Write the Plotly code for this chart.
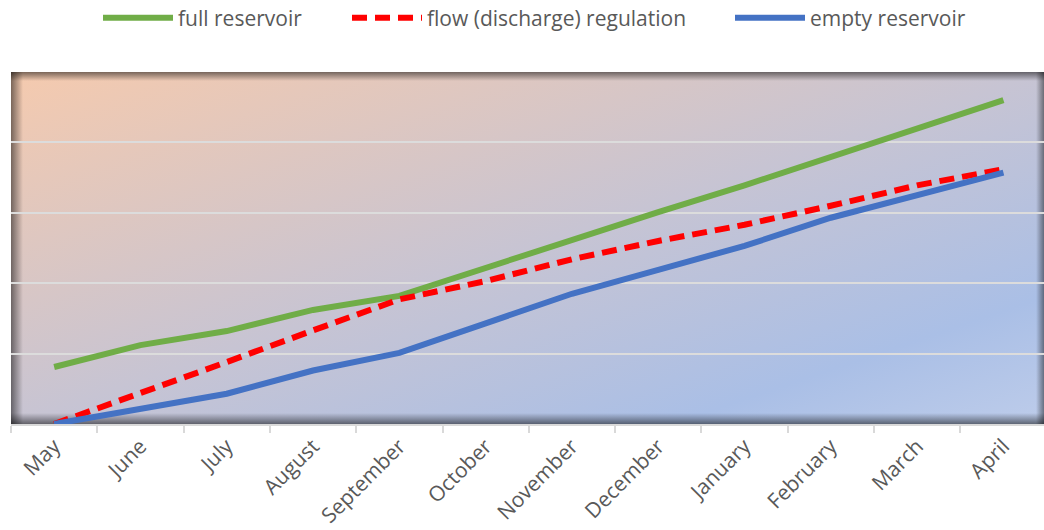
import base64
import plotly.graph_objects as go

months = ["May", "June", "July", "August", "September", "October", "November",
          "December", "January", "February", "March", "April"]
full_reservoir = [0.81, 1.12, 1.32, 1.62, 1.82, 2.22, 2.63, 3.01, 3.39, 3.79, 4.20, 4.60]
flow_regulation = [0.0, 0.43, 0.88, 1.33, 1.77, 2.03, 2.34, 2.60, 2.83, 3.10, 3.39, 3.62]
empty_reservoir = [0.0, 0.22, 0.43, 0.76, 1.01, 1.43, 1.85, 2.19, 2.53, 2.93, 3.24, 3.57]

W, H = 1033, 352
svg = f"""<svg xmlns='http://www.w3.org/2000/svg' width='{W}' height='{H}' viewBox='0 0 {W} {H}' preserveAspectRatio='none'>
<defs>
<linearGradient id='g' x1='0' y1='0' x2='1' y2='1'>
<stop offset='0' stop-color='#F5CAAE'/>
<stop offset='0.5' stop-color='#C7C4D3'/>
<stop offset='0.82' stop-color='#AABFE6'/>
<stop offset='1' stop-color='#BDCCEA'/>
</linearGradient>
<linearGradient id='sl' x1='0' y1='0' x2='1' y2='0'><stop offset='0' stop-color='#000' stop-opacity='0.5'/><stop offset='1' stop-color='#000' stop-opacity='0'/></linearGradient>
<linearGradient id='sr' x1='1' y1='0' x2='0' y2='0'><stop offset='0' stop-color='#000' stop-opacity='0.45'/><stop offset='1' stop-color='#000' stop-opacity='0'/></linearGradient>
<linearGradient id='st' x1='0' y1='0' x2='0' y2='1'><stop offset='0' stop-color='#000' stop-opacity='0.5'/><stop offset='1' stop-color='#000' stop-opacity='0'/></linearGradient>
<linearGradient id='sb' x1='0' y1='1' x2='0' y2='0'><stop offset='0' stop-color='#000' stop-opacity='0.5'/><stop offset='1' stop-color='#000' stop-opacity='0'/></linearGradient>
</defs>
<rect x='0' y='0' width='{W}' height='{H}' fill='url(#g)'/>
<rect x='0' y='0' width='12' height='{H}' fill='url(#sl)'/>
<rect x='{W-8}' y='0' width='8' height='{H}' fill='url(#sr)'/>
<rect x='0' y='0' width='{W}' height='9' fill='url(#st)'/>
<rect x='0' y='{H-11}' width='{W}' height='11' fill='url(#sb)'/>
</svg>"""
bg_src = "data:image/svg+xml;base64," + base64.b64encode(svg.encode()).decode()

fig = go.Figure()
fig.add_trace(go.Scatter(x=months, y=full_reservoir, mode="lines", name="full reservoir",
                         line=dict(color="#70AD47", width=6), legend="legend"))
fig.add_trace(go.Scatter(x=months, y=flow_regulation, mode="lines", name="flow (discharge) regulation",
                         line=dict(color="#FF0000", width=6, dash="15px,8px"), legend="legend2"))
fig.add_trace(go.Scatter(x=months, y=empty_reservoir, mode="lines", name="empty reservoir",
                         line=dict(color="#4472C4", width=6), legend="legend3"))

legend_common = dict(orientation="h", xref="container", yref="container", yanchor="middle",
                     xanchor="left", itemwidth=70, bgcolor="rgba(0,0,0,0)",
                     font=dict(family="Open Sans", size=21, color="#595959"))
fig.update_layout(
    width=1044, height=530,
    showlegend=True,
    margin=dict(l=11, r=0, t=72, b=106),
    paper_bgcolor="white",
    plot_bgcolor="#C7C4D3",
    legend=dict(x=98 / 1044, y=1 - 18 / 530, **legend_common),
    legend2=dict(x=347 / 1044, y=1 - 18 / 530, **legend_common),
    legend3=dict(x=730 / 1044, y=1 - 18 / 530, **legend_common),
    images=[dict(source=bg_src, xref="paper", yref="paper", x=0, y=1, sizex=1, sizey=1,
                 xanchor="left", yanchor="top", sizing="stretch", layer="below")],
    xaxis=dict(type="category", range=[-0.5, 11.47], showgrid=False,
               showline=True, linecolor="#D9D9D9", linewidth=1.5,
               ticks="outside", tickson="boundaries", ticklen=7, tickcolor="#D9D9D9", tickwidth=1.5,
               tickangle=-45, tickfont=dict(family="Open Sans", size=21, color="#595959")),
    yaxis=dict(range=[0, 5], dtick=1, showticklabels=False, showgrid=True,
               gridcolor="#DCDCDC", gridwidth=1.5, zeroline=False, showline=False, ticks=""),
)

fig.write_html("out.html", config={"displayModeBar": False},
               post_script="document.body.style.margin='0';document.body.style.overflow='hidden';")
